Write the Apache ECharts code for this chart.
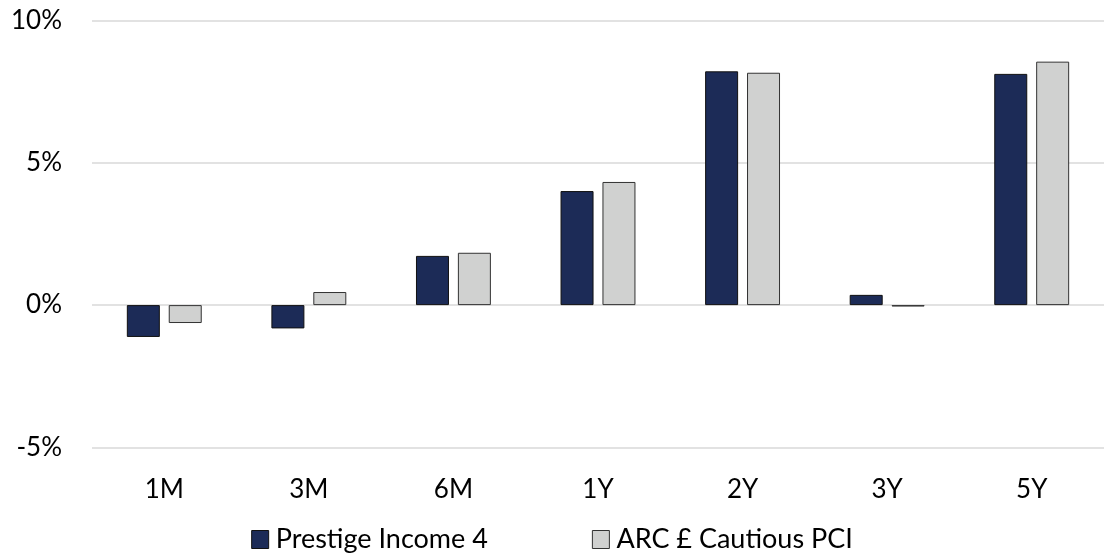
<!DOCTYPE html>
<html>
<head>
<meta charset="utf-8">
<script src="https://cdn.jsdelivr.net/npm/echarts@6/dist/echarts.min.js"></script>
<style>html,body{margin:0;padding:0;background:#fff}#c{width:1104px;height:555px}</style>
</head>
<body>
<div id="c"></div>
<script>
const categories = ['1M','3M','6M','1Y','2Y','3Y','5Y'];
const prestige = [-1.12, -0.82, 1.73, 4.01, 8.22, 0.36, 8.13];
const arc = [-0.63, 0.46, 1.84, 4.33, 8.17, -0.05, 8.56];
const seriesNames = ['Prestige Income 4', 'ARC £ Cautious PCI'];

const font = 'Lato, sans-serif';
const chart = echarts.init(document.getElementById('c'));
chart.setOption({
  animation: false,
  grid: { left: 92, right: 0, top: 20.7, bottom: 107.7 },
  legend: {
    top: 521,
    left: 'center',
    icon: 'rect',
    itemWidth: 17, itemHeight: 18, itemGap: 104,
    textStyle: { fontFamily: font, fontSize: 27, color: '#000', padding: [0, 0, 0, 2] },
    itemStyle: { borderWidth: 1 },
    data: seriesNames
  },
  xAxis: {
    type: 'category',
    data: categories,
    position: 'bottom',
    axisLine: { show: false, onZero: false },
    axisTick: { show: false },
    axisLabel: { fontFamily: font, fontSize: 26, color: '#000', margin: 29 }
  },
  yAxis: {
    type: 'value',
    min: -5, max: 10, interval: 5,
    axisLine: { show: false },
    axisTick: { show: false },
    axisLabel: { fontFamily: font, fontSize: 26, color: '#000', margin: 30, formatter: v => v + '%' },
    splitLine: { lineStyle: { color: '#d9d9d9', width: 1.5 } }
  },
  series: [
    { name: seriesNames[0], type: 'bar', data: prestige, barWidth: 33, barGap: '27%',
      itemStyle: { color: '#1c2b57', borderColor: '#111', borderWidth: 1 } },
    { name: seriesNames[1], type: 'bar', data: arc, barWidth: 33,
      itemStyle: { color: '#d0d1d0', borderColor: '#333', borderWidth: 1 } }
  ]
});
</script>
</body>
</html>
